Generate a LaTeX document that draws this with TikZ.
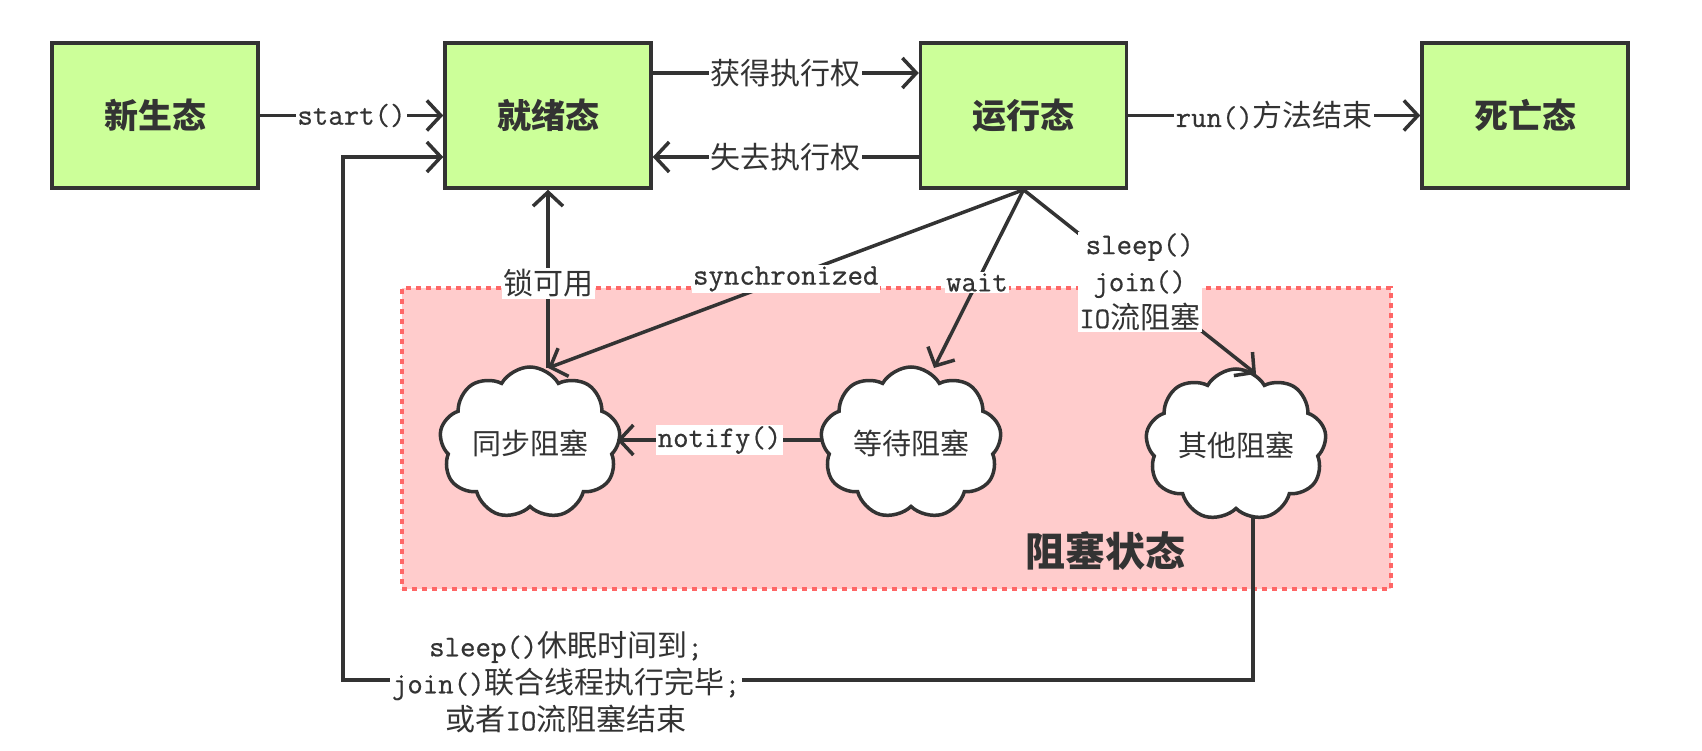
\documentclass[tikz,border=0pt]{standalone}
\usepackage{fontspec}
\setmainfont{Noto Sans CJK SC}
\setmonofont{Latin Modern Mono}[FakeBold=0.6]
\usetikzlibrary{arrows.meta,shapes.symbols}
\definecolor{boxgreen}{HTML}{CCFF99}
\definecolor{ink}{HTML}{333333}
\definecolor{pinkfill}{HTML}{FFCCCC}
\definecolor{pinkline}{HTML}{FF6666}
\newcommand\T[1]{{\ttfamily #1}}
\begin{document}
\begin{tikzpicture}[x=1pt,y=-1pt,
  statebox/.style={draw=ink, line width=3.5pt, fill=boxgreen, minimum width=206pt, minimum height=145pt, inner sep=0pt, font=\fontsize{34}{40}\selectfont\bfseries, text=ink},
  blob/.style={cloud, cloud puffs=9, cloud puff arc=120, cloud ignores aspect, draw=ink, line width=3.5pt, fill=white, minimum width=181pt, minimum height=152pt, inner sep=0pt, font=\fontsize{29}{35}\selectfont, text=ink},
  conn/.style={draw=ink, line width=3.5pt, -{Straight Barb[length=14pt,width=30pt]}},
  lbl/.style={fill=white, inner sep=1.5pt, text=ink, font=\fontsize{30}{37}\selectfont},
  region/.style={fill=pinkfill, draw=pinkline, line width=4pt, dash pattern=on 5pt off 5pt, minimum width=989pt, minimum height=301pt, inner sep=0pt}
]
\useasboundingbox (0,0) rectangle (1702,751);

% blocking region
\node[region] (blk) at (896.5,438.5) {};
\node[font=\fontsize{40}{46}\selectfont\bfseries, text=ink] (blktitle) at (1105,551) {阻塞状态};

% state boxes
\node[statebox] (new) at (155,115.5) {新生态};
\node[statebox] (ready) at (548,115.5) {就绪态};
\node[statebox] (run) at (1023.5,115.5) {运行态};
\node[statebox] (dead) at (1525,115.5) {死亡态};

% clouds
\node[blob] (sync) at (530,443) {同步阻塞};
\node[blob] (wait) at (911,443) {等待阻塞};
\node[blob] (other) at (1236,445) {其他阻塞};

% anchor points on clouds
\coordinate (syncTop) at (548,368);
\coordinate (syncRight) at (617,440);
\coordinate (waitTop) at (934,368);
\coordinate (waitLeft) at (822,440);
\coordinate (otherTop) at (1256,374);
\coordinate (otherBot) at (1253,517);
\coordinate (loopBL) at (343,680);

% top row
\draw[conn] (new.east) -- node[lbl]{\T{start()}} (ready.west);
\draw[conn] ([yshift=42.5pt]ready.east) -- node[lbl]{获得执行权} ([yshift=42.5pt]run.west);
\draw[conn] ([yshift=-41.5pt]run.west) -- node[lbl]{失去执行权} ([yshift=-41.5pt]ready.east);
\draw[conn] (run.east) -- node[lbl]{\T{run()}方法结束} (dead.west);

% from running to blocked
\draw[conn] (run.south) -- node[lbl, pos=0.5]{\T{synchronized}} (syncTop);
\draw[conn] (run.south) -- node[lbl, pos=0.52]{\T{wait}} (waitTop);
\draw[conn] (run.south) -- node[lbl, pos=0.5, align=center]{\T{sleep()}\\\T{join()}\\\T{IO}流阻塞} (otherTop);

% blocked to ready
\draw[conn] (syncTop) -- node[lbl, pos=0.475]{锁可用} (ready.south);
\draw[conn] (waitLeft) -- node[lbl]{\T{notify()}} (syncRight);

% feedback loop
\draw[conn] (otherBot) |- (loopBL) |- ([yshift=-41.5pt]ready.west);
\node[lbl, align=center] (fbl) at (566,682) {\T{sleep()}休眠时间到\T{;}\\\T{join()}联合线程执行完毕\T{;}\\或者\T{IO}流阻塞结束};
\end{tikzpicture}
\end{document}
